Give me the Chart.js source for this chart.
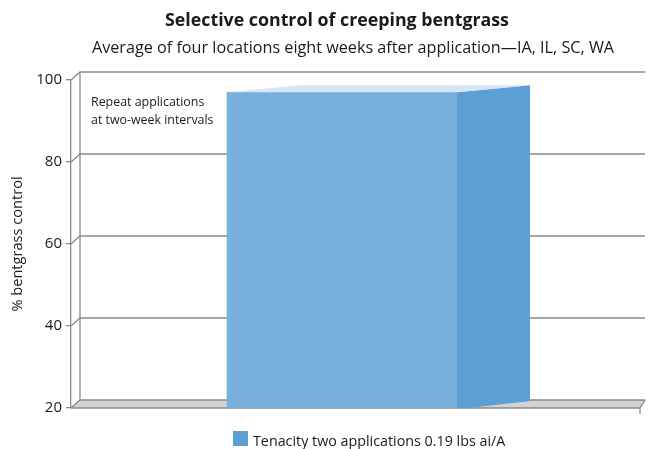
<!DOCTYPE html>
<html>
<head>
<meta charset="utf-8">
<script src="https://cdn.jsdelivr.net/npm/chart.js@4"></script>
<style>
  body { margin: 0; background: #fff; }
</style>
</head>
<body>
<canvas id="bentgrass" width="650" height="449"></canvas>
<script>
// Werte
const kategorien = ["Tenacity"];
const serienName = "Tenacity two applications 0.19 lbs ai/A";
const werte = [97];
const yTicks = [20, 40, 60, 80, 100];

const titel = "Selective control of creeping bentgrass";
const untertitel = "Average of four locations eight weeks after application\u2014IA, IL, SC, WA";
const hinweis = ["Repeat applications", "at two-week intervals"];

const schrift = "'Open Sans', 'Noto Sans', sans-serif";
const grau = "#8a8a8a";

// Tiefe der Rueckwand und der Saeule (Pseudo-3D wie im Original)
const wandTiefe = { dx: 9, dy: -8 };
const saeulenTiefe = { dx: 73, dy: -7 };
const bodenUeberstand = 27;

const pseudo3d = {
    id: "pseudo3d",
    beforeDatasetsDraw(chart) {
        const { ctx, chartArea: a, scales: { y } } = chart;
        const yMin = y.getPixelForValue(yTicks[0]);
        const yMax = y.getPixelForValue(yTicks[yTicks.length - 1]);
        const rechtsVorne = a.right + bodenUeberstand;
        const rechtsHinten = rechtsVorne + wandTiefe.dx - 4;
        ctx.save();

        // Boden
        ctx.fillStyle = "#d3d3d3";
        ctx.beginPath();
        ctx.moveTo(a.left, yMin);
        ctx.lineTo(a.left + wandTiefe.dx, yMin + wandTiefe.dy);
        ctx.lineTo(rechtsHinten, yMin + wandTiefe.dy);
        ctx.lineTo(rechtsVorne, yMin);
        ctx.closePath();
        ctx.fill();

        ctx.strokeStyle = grau;
        ctx.lineWidth = 1.3;
        // Gitterlinien auf der Rueckwand
        yTicks.forEach((v) => {
            const py = y.getPixelForValue(v);
            ctx.beginPath();
            ctx.moveTo(a.left, py);
            ctx.lineTo(a.left + wandTiefe.dx, py + wandTiefe.dy);
            ctx.lineTo(rechtsHinten, py + wandTiefe.dy);
            ctx.stroke();
        });
        // linke Wandkante hinten
        ctx.beginPath();
        ctx.moveTo(a.left + wandTiefe.dx, yMax + wandTiefe.dy);
        ctx.lineTo(a.left + wandTiefe.dx, yMin + wandTiefe.dy);
        ctx.stroke();
        // vordere Bodenkante
        ctx.beginPath();
        ctx.moveTo(a.left, yMin);
        ctx.lineTo(rechtsVorne, yMin);
        ctx.lineTo(rechtsHinten, yMin + wandTiefe.dy);
        ctx.moveTo(rechtsVorne, yMin);
        ctx.lineTo(rechtsVorne, yMin + 6);
        ctx.stroke();
        ctx.restore();
    },
    afterDatasetsDraw(chart) {
        const { ctx, scales: { y } } = chart;
        const basis = y.getPixelForValue(y.min);
        chart.getDatasetMeta(0).data.forEach((bar) => {
            const links = bar.x - bar.width / 2;
            const rechts = bar.x + bar.width / 2;
            const oben = bar.y;
            ctx.save();
            // Seitenflaeche
            ctx.fillStyle = "#5b9fd4";
            ctx.beginPath();
            ctx.moveTo(rechts, oben);
            ctx.lineTo(rechts + saeulenTiefe.dx, oben + saeulenTiefe.dy);
            ctx.lineTo(rechts + saeulenTiefe.dx, basis + saeulenTiefe.dy);
            ctx.lineTo(rechts + 12, basis);
            ctx.lineTo(rechts, basis);
            ctx.closePath();
            ctx.fill();
            // Deckflaeche
            ctx.fillStyle = "#d8e5f2";
            ctx.beginPath();
            ctx.moveTo(links, oben);
            ctx.lineTo(links + saeulenTiefe.dx, oben + saeulenTiefe.dy);
            ctx.lineTo(rechts + saeulenTiefe.dx, oben + saeulenTiefe.dy);
            ctx.lineTo(rechts, oben);
            ctx.closePath();
            ctx.fill();
            ctx.restore();
        });
    },
    afterDraw(chart) {
        const { ctx, chartArea: a } = chart;
        ctx.save();
        ctx.fillStyle = "#1a1a1a";
        ctx.textAlign = "center";
        ctx.textBaseline = "alphabetic";
        ctx.font = "bold 17.8px " + schrift;
        ctx.fillText(titel, 337, 26);
        ctx.font = "16.2px " + schrift;
        ctx.fillText(untertitel, 353, 53);

        ctx.textAlign = "left";
        ctx.font = "12.4px " + schrift;
        ctx.fillText(hinweis[0], a.left + 20, 106);
        ctx.fillText(hinweis[1], a.left + 20, 124);

        // Legende
        ctx.fillStyle = "#5b9fd4";
        ctx.fillRect(233, 431, 15, 15);
        ctx.fillStyle = "#1a1a1a";
        ctx.font = "14.3px " + schrift;
        ctx.fillText(serienName, 253, 446);
        ctx.restore();
    }
};

new Chart(document.getElementById("bentgrass"), {
    type: "bar",
    data: {
        labels: kategorien,
        datasets: [
            {
                label: serienName,
                data: werte,
                base: 20,
                backgroundColor: "#79afdd",
                barThickness: 230,
            },
        ],
    },
    options: {
        responsive: false,
        animation: false,
        layout: { padding: { top: 80, right: 37, bottom: 41, left: 0 } },
        plugins: {
            legend: { display: false },
            title: { display: false },
            tooltip: { enabled: false },
        },
        scales: {
            x: { display: false },
            y: {
                min: 20,
                max: 100,
                afterFit(scale) {
                    scale.width = 71;
                },
                ticks: {
                    stepSize: 20,
                    padding: 4,
                    color: "#1a1a1a",
                    font: { family: schrift, size: 15 },
                },
                grid: { drawOnChartArea: false, tickLength: 5, color: grau, lineWidth: 1.3 },
                border: { color: grau, width: 1.3 },
                title: {
                    display: true,
                    text: "% bentgrass control",
                    color: "#1a1a1a",
                    font: { family: schrift, size: 14.6 },
                    padding: { top: 9, bottom: 0 },
                },
            },
        },
    },
    plugins: [pseudo3d],
});
</script>
</body>
</html>
